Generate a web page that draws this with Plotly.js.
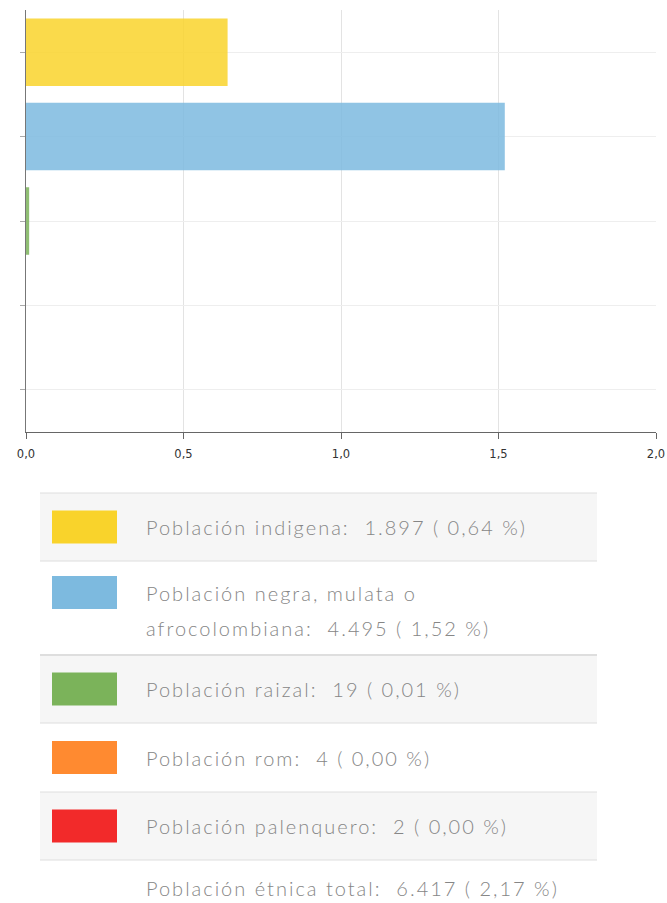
<!DOCTYPE html>
<html>
<head>
<meta charset="utf-8">
<script src="https://cdn.plot.ly/plotly-3.0.1.min.js"></script>
<style>
  html, body { margin: 0; padding: 0; background: #fff; }
  #chart { width: 667px; height: 903px; }
  #chart .annotation-text { letter-spacing: 2px; }
</style>
</head>
<body>
<div id="chart"></div>
<script>
// ---- Data ----
const categories = ['Población indígena', 'Población negra, mulata o afrocolombiana', 'Población raizal', 'Población rom', 'Población palenquero'];
const legendLabels = ['Población indigena', 'Población negra, mulata o|afrocolombiana', 'Población raizal', 'Población rom', 'Población palenquero'];
const counts = [1897, 4495, 19, 4, 2];
const percents = [0.64, 1.52, 0.01, 0.00, 0.00];
const colors = ['#F9D32B', '#7DBADF', '#7BB35A', '#FF8A30', '#F22A2A'];
const totalLabel = 'Población étnica total';
const totalCount = 6417;
const totalPercent = 2.17;
const xTicks = [0, 0.5, 1.0, 1.5, 2.0];

// ---- Helpers ----
const W = 667, H = 903;
const px = x => x / W;
const py = y => 1 - y / H;
function fmtInt(n) { return String(n).replace(/\B(?=(\d{3})+(?!\d))/g, '.'); }
function fmtPct(p) { return p.toFixed(2).replace('.', ','); }

const trace = {
  type: 'bar',
  orientation: 'h',
  y: categories,
  x: percents,
  marker: { color: colors, opacity: 0.85, line: { width: 0 } },
  hoverinfo: 'x+y'
};

// ---- Table (legend) geometry ----
const rowBounds = [493, 561, 655, 723, 792, 860, 903];
const rowFill = ['#f6f6f6', '#ffffff', '#f6f6f6', '#ffffff', '#f6f6f6', '#ffffff'];
const tableLeft = 40, tableRight = 597;
const textFont = { family: 'Lato, "Open Sans", sans-serif', size: 20, color: '#868686', weight: 300 };
const shapes = [];
const annotations = [];
function addText(str, y) {
  annotations.push({ xref: 'paper', yref: 'paper', x: px(144), y: py(y),
    xanchor: 'left', yanchor: 'middle', align: 'left', showarrow: false,
    text: str, font: textFont });
}
for (let i = 0; i < 6; i++) {
  const top = rowBounds[i], bot = rowBounds[i + 1];
  if (rowFill[i] !== '#ffffff') {
    shapes.push({ type: 'rect', xref: 'paper', yref: 'paper', layer: 'below',
      x0: px(tableLeft), x1: px(tableRight), y0: py(top), y1: py(bot),
      fillcolor: rowFill[i], line: { width: 0 } });
  }
  shapes.push({ type: 'line', xref: 'paper', yref: 'paper',
    x0: px(tableLeft), x1: px(tableRight), y0: py(top), y1: py(top),
    line: { color: '#dedede', width: i === 2 ? 2 : 1 } });
  const mid = (top + bot) / 2;
  if (i < 5) {
    const sTop = i === 1 ? 576 : mid - 16.5;
    shapes.push({ type: 'rect', xref: 'paper', yref: 'paper',
      x0: px(52), x1: px(117), y0: py(sTop), y1: py(sTop + 33),
      fillcolor: colors[i], line: { width: 0 } });
    const parts = legendLabels[i].split('|');
    const tail = ':  ' + fmtInt(counts[i]) + ' ( ' + fmtPct(percents[i]) + ' %)';
    if (parts.length === 2) {
      addText(parts[0], 593);
      addText(parts[1] + tail, 628);
    } else {
      addText(parts[0] + tail, mid);
    }
  } else {
    addText(totalLabel + ':  ' + fmtInt(totalCount) + ' ( ' + fmtPct(totalPercent) + ' %)', 888);
  }
}

const layout = {
  width: W, height: H,
  margin: { l: 0, r: 0, t: 0, b: 0 },
  paper_bgcolor: '#ffffff',
  plot_bgcolor: '#ffffff',
  showlegend: false,
  separators: ',.',
  bargap: 0.2,
  xaxis: {
    domain: [px(26), px(656)],
    range: [0, 2.0],
    tickvals: xTicks,
    tickformat: '.1f',
    showgrid: true, gridcolor: '#e3e3e3', gridwidth: 1,
    zeroline: false,
    showline: true, linecolor: '#666666', linewidth: 1,
    ticks: 'outside', ticklen: 6, tickcolor: '#666666',
    ticklabelstandoff: 5,
    tickfont: { family: '"DejaVu Sans", Verdana, sans-serif', size: 11.5, color: '#333333' },
    automargin: false, fixedrange: true
  },
  yaxis: {
    domain: [py(432), py(10)],
    autorange: 'reversed',
    showticklabels: false,
    showgrid: true, gridcolor: '#eeeeee', gridwidth: 1,
    showline: true, linecolor: '#777777', linewidth: 1,
    ticks: 'outside', ticklen: 5, tickcolor: '#aaaaaa',
    automargin: false, fixedrange: true
  },
  shapes: shapes,
  annotations: annotations
};

Plotly.newPlot('chart', [trace], layout, { displayModeBar: false, staticPlot: true });
</script>
</body>
</html>
